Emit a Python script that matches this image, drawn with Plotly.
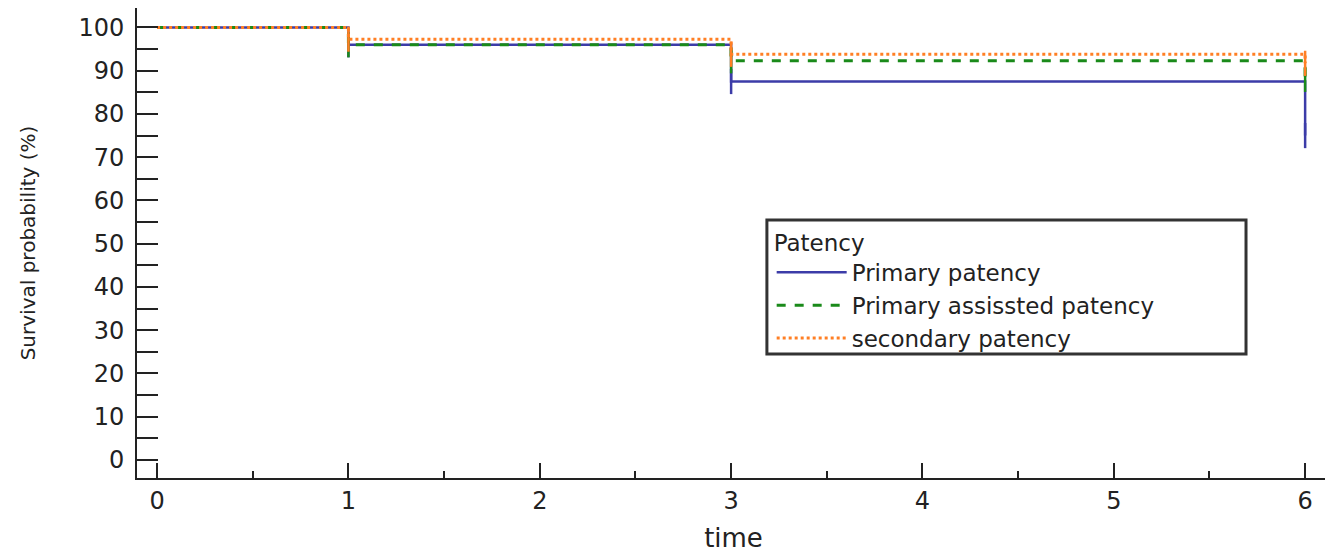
import plotly.graph_objects as go

# Kaplan-Meier step data (time, survival %)
times = [0, 1, 3, 6]
primary = [100, 96, 87.5, 75]
assisted = [100, 96, 92.3, 88]
secondary = [100, 97.3, 93.8, 91.7]

series_names = ["Primary patency", "Primary assissted patency", "secondary patency"]
series_vals = [primary, assisted, secondary]
colors = ["#3c3ca8", "#1a8a1a", "#ff7f24"]
dashes = ["solid", "dash", "dot"]
widths = [2.5, 3, 3]

x_ticks = [0, 1, 2, 3, 4, 5, 6]
y_ticks = [0, 10, 20, 30, 40, 50, 60, 70, 80, 90, 100]

fig = go.Figure()
for name, vals, c, d, w in zip(series_names, series_vals, colors, dashes, widths):
    fig.add_trace(go.Scatter(
        x=times, y=vals, mode="lines", name=name,
        line=dict(color=c, dash=d, width=w, shape="hv"),
    ))
    # censor marks at event times
    fig.add_trace(go.Scatter(
        x=times[1:], y=vals[1:], mode="markers", showlegend=False,
        marker=dict(symbol="line-ns", size=18, line=dict(color=c, width=2.5)),
        hoverinfo="skip",
    ))

font_family = "DejaVu Sans, Arial, sans-serif"
fig.update_layout(
    width=1325, height=545,
    margin=dict(l=129, r=3, t=0, b=75),
    plot_bgcolor="white", paper_bgcolor="white",
    font=dict(family=font_family, size=24, color="#222"),
    showlegend=True,
    legend=dict(
        title=dict(text="Patency", font=dict(size=23)),
        x=0.532, y=0.547, xanchor="left", yanchor="top",
        borderwidth=0, bgcolor="rgba(0,0,0,0)",
        font=dict(size=23), tracegroupgap=0, itemwidth=70,
    ),
    # legend frame
    shapes=[dict(type="rect", xref="paper", yref="paper",
                 x0=0.528, x1=0.9296, y0=0.2638, y1=0.549,
                 line=dict(color="#333", width=3), fillcolor="white", layer="below")],
    xaxis=dict(
        range=[-0.105, 6.13], tickvals=x_ticks, ticktext=[str(v) for v in x_ticks],
        showgrid=False, zeroline=False, showline=True, linecolor="#222", linewidth=2,
        ticks="inside", ticklen=15, tickwidth=1.5, tickcolor="#222",
        minor=dict(dtick=0.5, tick0=0, ticks="inside", ticklen=7, tickwidth=1.5, tickcolor="#222"),
        title=dict(text="time", font=dict(size=26), standoff=17),
        tickfont=dict(size=24), automargin=False,
    ),
    yaxis=dict(
        range=[-4.2, 104.5], tickvals=y_ticks, ticktext=[str(v) for v in y_ticks],
        showgrid=False, zeroline=False, showline=True, linecolor="#222", linewidth=2,
        ticks="inside", ticklen=21, tickwidth=1.5, tickcolor="#222",
        minor=dict(dtick=5, tick0=0, ticks="inside", ticklen=21, tickwidth=1.5, tickcolor="#222"),
        title=dict(text="Survival probability (%)", font=dict(size=20), standoff=37),
        tickfont=dict(size=24), ticklabelstandoff=6, automargin=False,
    ),
)

fig.write_html("out.html")
